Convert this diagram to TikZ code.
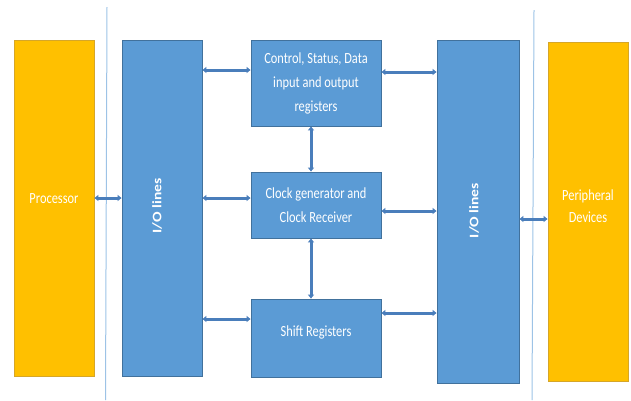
\documentclass[tikz,border=0pt]{standalone}
\usepackage{fontspec}
\setmainfont{Carlito}
\newfontfamily\tallfont[FakeStretch=0.8]{Carlito}
\newfontfamily\longfont[FakeStretch=1.2]{Carlito}
\usepackage{tikz}
\usetikzlibrary{arrows.meta}
\definecolor{io-blue}{RGB}{91, 155, 213}
\definecolor{io-edge}{RGB}{65, 113, 156}
\definecolor{dev-orange}{RGB}{255, 192, 0}
\definecolor{dev-edge}{RGB}{214, 166, 40}
\definecolor{bus-blue}{RGB}{74, 126, 187}
\definecolor{sep-blue}{RGB}{157, 195, 230}
\tikzset{
  blockbox/.style = {draw = io-edge, fill = io-blue, line width = 0.6pt, inner sep = 0pt},
  devbox/.style = {draw = dev-edge, fill = dev-orange, line width = 0.6pt, inner sep = 0pt},
  boxtext/.style = {text = white, align = center, font = \tallfont\fontsize{15.5}{24}\selectfont},
  iotext/.style = {text = white, rotate = 90, font = \longfont\bfseries\fontsize{13}{16}\selectfont},
  link/.style = {bus-blue, line width = 3pt, {Latex[length=4pt, width=7pt]}-{Latex[length=4pt, width=7pt]}},
  separator/.style = {sep-blue, line width = 1pt}
}

\begin{document}
\begin{tikzpicture}[x = 1pt, y = -1pt]
          \useasboundingbox (0, 0) rectangle (631, 400);

          % separators
          \draw[separator] (107, 7) -- (105.5, 400);
          \draw[separator] (534, 10) -- (532, 400);

          % outer devices
          \node[devbox, minimum width = 80, minimum height = 336] (proc) at (54, 208) {};
          \node[boxtext] (proc-txt) at ([yshift = 9pt]proc.center) {Processor};
          \node[devbox, minimum width = 80, minimum height = 339] (peri) at (588, 211.5) {};
          \node[boxtext, font = \tallfont\fontsize{15.5}{22}\selectfont] (peri-txt) at ([yshift = 5pt]peri.center) {Peripheral\\Devices};

          % i/o lines
          \node[blockbox, minimum width = 80, minimum height = 336] (io-l) at (162, 208) {};
          \node[iotext] (io-l-txt) at ([xshift = -5pt, yshift = 2pt]io-l.center) {I/O lines};
          \node[blockbox, minimum width = 82, minimum height = 343] (io-r) at (478, 211.5) {};
          \node[iotext] (io-r-txt) at ([xshift = -4pt, yshift = 1pt]io-r.center) {I/O lines};

          % interface blocks
          \node[blockbox, boxtext, minimum width = 130, minimum height = 86] (ctrl) at (316, 83)
            {Control, Status, Data\\input and output\\registers};
          \node[blockbox, boxtext, minimum width = 130, minimum height = 66] (clk) at (316, 205)
            {Clock generator and\\Clock Receiver};
          \node[blockbox, minimum width = 130, minimum height = 78] (shift) at (316, 338) {};
          \node[boxtext] (shift-txt) at ([yshift = 6pt]shift.center) {Shift Registers};

          % buses
          \draw[link] (proc.east |- 0, 198) -- (io-l.west |- 0, 198);
          \draw[link] (io-l.east |- 0, 70) -- (ctrl.west |- 0, 70);
          \draw[link] (io-l.east |- 0, 198) -- (clk.west |- 0, 198);
          \draw[link] (io-l.east |- 0, 319) -- (shift.west |- 0, 319);
          \draw[link] (ctrl.east |- 0, 72) -- (io-r.west |- 0, 72);
          \draw[link] (clk.east |- 0, 211) -- (io-r.west |- 0, 211);
          \draw[link] (shift.east |- 0, 313) -- (io-r.west |- 0, 313);
          \draw[link] (io-r.east |- 0, 219) -- (peri.west |- 0, 219);
          \draw[link] ([xshift = -5pt]ctrl.south) -- ([xshift = -5pt]clk.north);
          \draw[link] ([xshift = -5pt]clk.south) -- ([xshift = -5pt]shift.north);
        \end{tikzpicture}
\end{document}
